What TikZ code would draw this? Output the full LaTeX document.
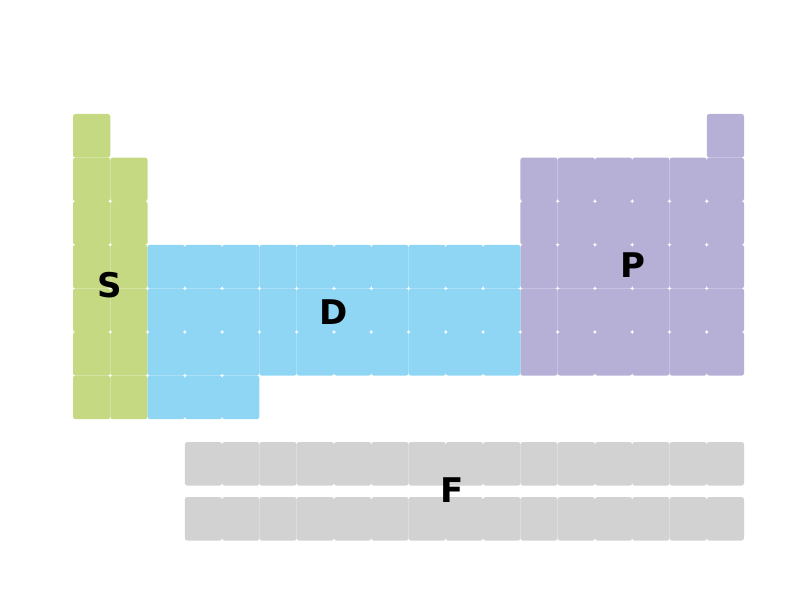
\documentclass[tikz,border=0pt]{standalone}
\usepackage{fontspec}
\setsansfont{DejaVu Sans}
\definecolor{sblock}{RGB}{197,217,131}
\definecolor{dblock}{RGB}{143,214,245}
\definecolor{pblock}{RGB}{182,176,215}
\definecolor{fblock}{RGB}{211,210,210}
\begin{document}
\begin{tikzpicture}[x=1pt,y=1pt,
  cellbox/.style={rounded corners=2.5pt},
  blocklabel/.style={anchor=base,inner sep=0pt,font=\sffamily\bfseries\fontsize{34}{40}\selectfont,text=black}]
\useasboundingbox (0,0) rectangle (800,600);
\def\cw{37.28}
\def\ch{43.6}
% main table cell: column, period, colour
\def\mkcell#1#2#3{\fill[#3,cellbox] ({73+(#1-1)*\cw},{486-(#2-1)*\ch}) rectangle ++(\cw,-\ch);}
% s block
\mkcell{1}{1}{sblock}
\foreach \r in {2,...,7}{\mkcell{1}{\r}{sblock}\mkcell{2}{\r}{sblock}}
% p block
\mkcell{18}{1}{pblock}
\foreach \r in {2,...,6}{\foreach \c in {13,...,18}{\mkcell{\c}{\r}{pblock}}}
% d block
\foreach \r in {4,...,6}{\foreach \c in {3,...,12}{\mkcell{\c}{\r}{dblock}}}
\foreach \c in {3,...,5}{\mkcell{\c}{7}{dblock}}
% f block
\foreach \c in {4,...,18}{
  \fill[fblock,cellbox] ({73+(\c-1)*\cw},158) rectangle ++(\cw,-\ch);
  \fill[fblock,cellbox] ({73+(\c-1)*\cw},103) rectangle ++(\cw,-\ch);
}
\node[blocklabel] (S) at (110,302) {S};
\node[blocklabel] (D) at (334,275) {D};
\node[blocklabel] (P) at (632.5,322) {P};
\node[blocklabel] (F) at (452.5,98) {F};
\end{tikzpicture}
\end{document}
